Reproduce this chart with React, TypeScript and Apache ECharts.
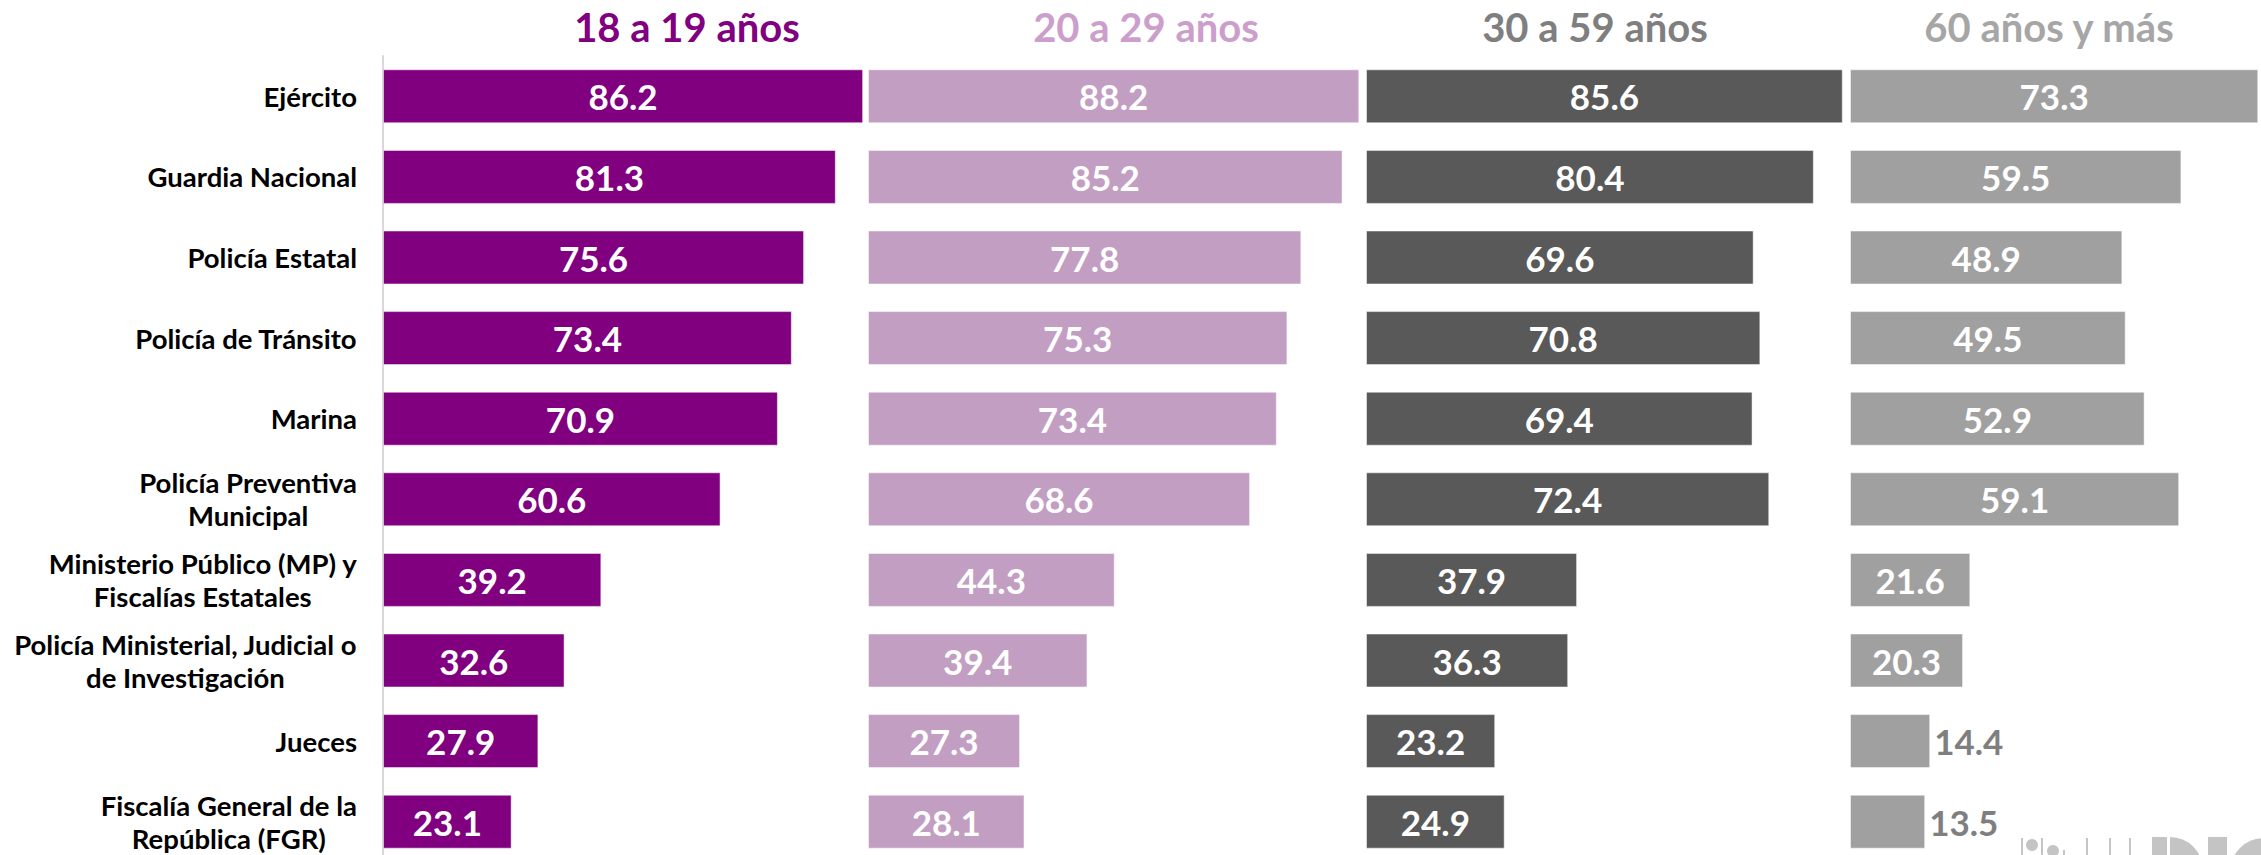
import React, { useEffect, useRef } from "react";
import * as echarts from "echarts";

const categories = [
  "Ejército",
  "Guardia Nacional",
  "Policía Estatal",
  "Policía de Tránsito",
  "Marina",
  "Policía Preventiva\nMunicipal",
  "Ministerio Público (MP) y\nFiscalías Estatales",
  "Policía Ministerial, Judicial o\nde Investigación",
  "Jueces",
  "Fiscalía General de la\nRepública (FGR)",
];
const ageGroups = ["18 a 19 años", "20 a 29 años", "30 a 59 años", "60 años y más"];
const v18to19 = [86.2, 81.3, 75.6, 73.4, 70.9, 60.6, 39.2, 32.6, 27.9, 23.1];
const v20to29 = [88.2, 85.2, 77.8, 75.3, 73.4, 68.6, 44.3, 39.4, 27.3, 28.1];
const v30to59 = [85.6, 80.4, 69.6, 70.8, 69.4, 72.4, 37.9, 36.3, 23.2, 24.9];
const v60plus = [73.3, 59.5, 48.9, 49.5, 52.9, 59.1, 21.6, 20.3, 14.4, 13.5];

const seriesValues = [v18to19, v20to29, v30to59, v60plus];
const barColors = ["#800080", "#C29EC3", "#595959", "#A0A0A0"];
const headerColors = ["#800080", "#CC9ECC", "#7F7F7F", "#A6A6A6"];
const panelLeft = [383, 868, 1366, 1850];
const headerX = [687, 1146, 1595, 2049];
const PX_PER_UNIT = 5.57;
const FONT = "Lato";

export default function App() {
  const ref = useRef<HTMLDivElement>(null);
  useEffect(() => {
    if (!ref.current) return;
    const chart = echarts.init(ref.current, null, { renderer: "svg" });
    const grids: any[] = [];
    const xAxes: any[] = [];
    const yAxes: any[] = [];
    const series: any[] = [];
    seriesValues.forEach((vals, i) => {
      const max = Math.max(...vals);
      grids.push({ left: panelLeft[i], top: 56, width: max * PX_PER_UNIT, height: 806, containLabel: false });
      xAxes.push({ gridIndex: i, type: "value", min: 0, max, show: false });
      yAxes.push({
        gridIndex: i,
        type: "category",
        data: categories,
        inverse: true,
        show: i === 0,
        axisLine: { show: i === 0, lineStyle: { color: "#D9D9D9", width: 2 } },
        axisTick: { show: false },
        splitLine: { show: false },
        axisLabel: {
          show: i === 0,
          margin: 26,
          align: "right",
          formatter: (v: string) => v.split("\n").map((l) => `{c|${l}}`).join("\n"),
          rich: {
            c: {
              align: "center",
              fontFamily: FONT,
              fontWeight: "bold",
              fontSize: 27.5,
              lineHeight: 33,
              color: "#000000",
            },
          },
        },
      });
      series.push({
        type: "bar",
        name: ageGroups[i],
        xAxisIndex: i,
        yAxisIndex: i,
        barWidth: 54,
        itemStyle: { color: barColors[i], borderColor: "rgba(255,255,255,0.5)", borderWidth: 1 },
        label: {
          show: true,
          position: "inside",
          color: "#FFFFFF",
          fontFamily: FONT,
          fontWeight: "bold",
          fontSize: 35,
          formatter: (p: any) => p.value.toFixed(1),
        },
        data: vals.map((v) =>
          v < 15
            ? { value: v, label: { position: "right", distance: 4, color: "#7F7F7F" } }
            : v
        ),
      });
    });

    const logoColor = "#C4C4C4";
    const graphic: any[] = ageGroups.map((g, i) => ({
      type: "text",
      x: headerX[i],
      y: 27,
      style: {
        text: g,
        fill: headerColors[i],
        font: `bold 40px ${FONT}`,
        textAlign: "center",
        textVerticalAlign: "middle",
      },
    }));
    graphic.push(
      { type: "rect", shape: { x: 2021, y: 838, width: 2, height: 17 }, style: { fill: logoColor } },
      { type: "circle", shape: { cx: 2032, cy: 845, r: 6 }, style: { fill: logoColor } },
      { type: "rect", shape: { x: 2041, y: 838, width: 2, height: 17 }, style: { fill: logoColor } },
      { type: "circle", shape: { cx: 2053, cy: 851, r: 6 }, style: { fill: logoColor } },
      { type: "rect", shape: { x: 2063, y: 850, width: 2, height: 5 }, style: { fill: logoColor } },
      { type: "rect", shape: { x: 2086, y: 838, width: 2, height: 17 }, style: { fill: logoColor } },
      { type: "rect", shape: { x: 2109, y: 838, width: 2, height: 17 }, style: { fill: logoColor } },
      { type: "rect", shape: { x: 2129, y: 838, width: 2, height: 17 }, style: { fill: logoColor } },
      { type: "rect", shape: { x: 2152, y: 837, width: 15, height: 18 }, style: { fill: logoColor } },
      {
        type: "sector",
        shape: { cx: 2170, cy: 870, r: 33, r0: 0, startAngle: -Math.PI / 2, endAngle: 0 },
        style: { fill: logoColor },
      },
      { type: "rect", shape: { x: 2208, y: 837, width: 19, height: 18 }, style: { fill: logoColor } },
      {
        type: "sector",
        shape: { cx: 2264, cy: 872, r: 34, r0: 16, startAngle: Math.PI, endAngle: Math.PI * 1.5 },
        style: { fill: logoColor },
      }
    );

    chart.setOption({
      animation: false,
      backgroundColor: "#FFFFFF",
      grid: grids,
      xAxis: xAxes,
      yAxis: yAxes,
      series,
      graphic,
    });
    return () => chart.dispose();
  }, []);
  return (
    <div
      style={{
        position: "absolute",
        left: 0,
        top: 0,
        width: 2261,
        height: 855,
        overflow: "hidden",
        background: "#FFFFFF",
      }}
    >
      <div ref={ref} style={{ width: 2261, height: 900 }} />
    </div>
  );
}
